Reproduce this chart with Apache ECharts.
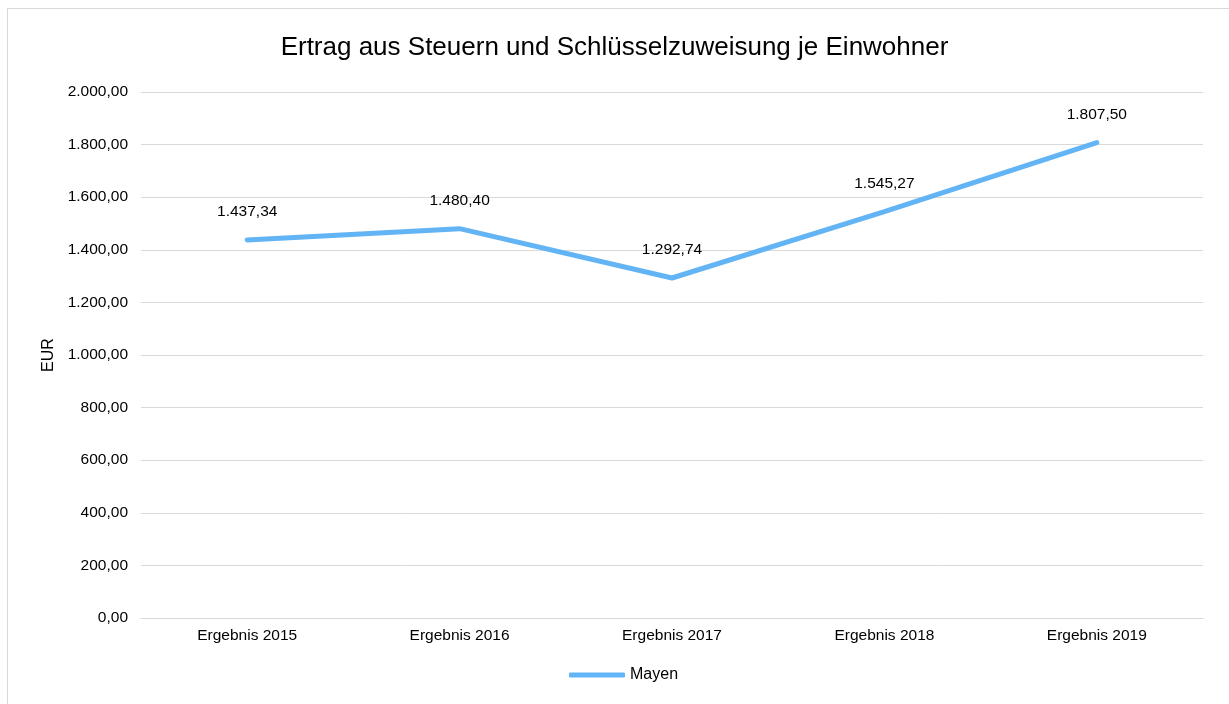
<!DOCTYPE html>
<html>
<head>
<meta charset="utf-8">
<script src="https://cdn.jsdelivr.net/npm/echarts@6/dist/echarts.min.js"></script>
<style>
  html, body { margin: 0; padding: 0; background: #fff; }
  #frame { position: absolute; left: 7px; top: 8px; width: 1240px; height: 720px; border: 1px solid #d9d9d9; box-sizing: border-box; }
  #chart { position: absolute; left: 0; top: 0; width: 1229px; height: 704px; }
</style>
</head>
<body>
<div id="frame"></div>
<div id="chart"></div>
<script>
  let categories = ['Ergebnis 2015', 'Ergebnis 2016', 'Ergebnis 2017', 'Ergebnis 2018', 'Ergebnis 2019']
  let mayen = [1437.34, 1480.40, 1292.74, 1545.27, 1807.50]
  let yMin = 0
  let yMax = 2000
  let yStep = 200

  // deutsches Zahlenformat: 1.437,34
  function fmt (v) {
    let parts = Number(v).toFixed(2).split('.')
    parts[0] = parts[0].replace(/\B(?=(\d{3})+(?!\d))/g, '.')
    return parts.join(',')
  }

  let myChart = echarts.init(document.getElementById('chart'))
  let font = '"Liberation Sans", Arial, sans-serif'
  let option = {
    animation: false,
    textStyle: { fontFamily: font },
    title: {
      text: 'Ertrag aus Steuern und Schlüsselzuweisung je Einwohner',
      left: 'center',
      top: 30,
      textStyle: { fontFamily: font, fontSize: 26, fontWeight: 'normal', color: '#000' }
    },
    legend: {
      bottom: 16,
      left: 564,
      itemWidth: 56,
      itemHeight: 5,
      itemGap: 4,
      icon: 'roundRect',
      textStyle: { fontFamily: font, fontSize: 16, color: '#000', padding: [0, 0, 0, 0] },
      data: ['Mayen']
    },
    grid: {
      left: 141,
      right: 26,
      top: 92,
      bottom: 86
    },
    xAxis: {
      type: 'category',
      data: categories,
      boundaryGap: true,
      axisTick: { show: false },
      axisLine: { show: true, lineStyle: { color: '#d9d9d9', width: 1 } },
      axisLabel: { color: '#000', fontSize: 15.5, margin: 10, fontFamily: font }
    },
    yAxis: {
      type: 'value',
      min: yMin,
      max: yMax,
      interval: yStep,
      name: 'EUR',
      nameLocation: 'middle',
      nameRotate: 90,
      nameGap: 84,
      nameTextStyle: { color: '#000', fontSize: 16, fontFamily: font },
      axisLine: { show: false },
      axisTick: { show: false },
      splitLine: { lineStyle: { color: '#d9d9d9', width: 1 } },
      axisLabel: { color: '#000', fontSize: 15.5, margin: 13, fontFamily: font, formatter: fmt }
    },
    series: [
      {
        name: 'Mayen',
        type: 'line',
        data: mayen,
        symbol: 'circle',
        symbolSize: 0,
        showSymbol: true,
        lineStyle: { color: '#63b4f5', width: 5, cap: 'round' },
        itemStyle: { color: '#63b4f5' },
        label: {
          show: true,
          position: 'top',
          distance: 20,
          color: '#000',
          fontSize: 15.5,
          fontFamily: font,
          formatter: function (p) { return fmt(p.value) }
        }
      }
    ]
  }
  myChart.setOption(option)
</script>
</body>
</html>
